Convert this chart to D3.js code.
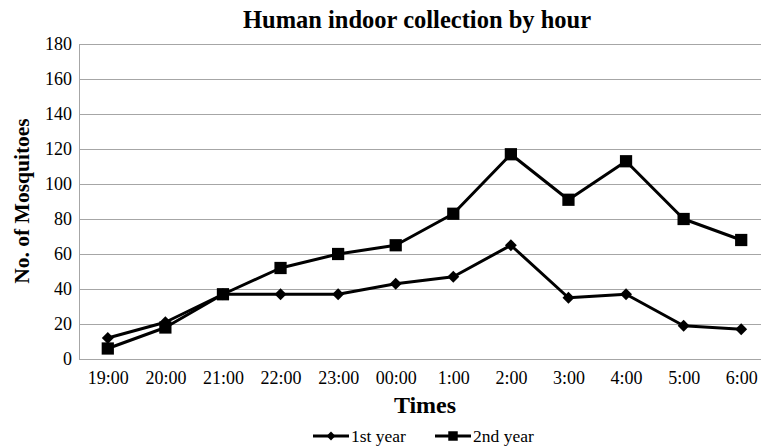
<!DOCTYPE html>
<html>
<head>
<meta charset="utf-8">
<script src="https://cdn.jsdelivr.net/npm/d3@7"></script>
<style>
  body { margin: 0; background: #fff; }
  text { font-family: "Liberation Serif", "Times New Roman", serif; fill: #000; }
</style>
</head>
<body>
<script>
// data
var times = ["19:00", "20:00", "21:00", "22:00", "23:00", "00:00", "1:00", "2:00", "3:00", "4:00", "5:00", "6:00"];
var firstYear = [12, 21, 37, 37, 37, 43, 47, 65, 35, 37, 19, 17];
var secondYear = [6, 18, 37, 52, 60, 65, 83, 117, 91, 113, 80, 68];
var yTicks = [0, 20, 40, 60, 80, 100, 120, 140, 160, 180];

// plot box (right edge runs past the window, like the original crop)
var margin = {top: 44, left: 79},
    plotRight = 770,
    plotBottom = 359;

var svg = d3.select("body")
  .append("svg")
    .attr("width", 761)
    .attr("height", 446);

var x = d3.scalePoint()
  .domain(times)
  .range([margin.left, plotRight])
  .padding(0.5);

var y = d3.scaleLinear()
  .domain([0, 180])
  .range([plotBottom, margin.top]);

// gridlines
svg.append("g")
  .selectAll("line")
  .data(yTicks)
  .enter().append("line")
    .attr("x1", margin.left)
    .attr("x2", plotRight)
    .attr("y1", function(d) { return y(d) + 0.5; })
    .attr("y2", function(d) { return y(d) + 0.5; })
    .attr("stroke", "#a6a6a6")
    .attr("stroke-width", 1);

// left axis line
svg.append("line")
  .attr("x1", margin.left + 0.5).attr("x2", margin.left + 0.5)
  .attr("y1", margin.top).attr("y2", plotBottom + 1)
  .attr("stroke", "#a6a6a6");

// y tick labels
svg.append("g")
  .attr("transform", "translate(" + (margin.left - 7) + ",0)")
  .call(d3.axisLeft(y).tickValues(yTicks).tickSize(0).tickPadding(0))
  .attr("font-family", "Liberation Serif")
  .attr("font-size", 18)
  .call(function(g) { g.select(".domain").remove(); });

// x tick labels
svg.append("g")
  .attr("transform", "translate(0," + (plotBottom + 12) + ")")
  .call(d3.axisBottom(x).tickSize(0).tickPadding(0))
  .attr("font-family", "Liberation Serif")
  .attr("font-size", 18)
  .call(function(g) { g.select(".domain").remove(); });

// lines
var line = d3.line()
  .x(function(d, i) { return x(times[i]); })
  .y(function(d) { return y(d); });

[firstYear, secondYear].forEach(function(series) {
  svg.append("path")
    .datum(series)
    .attr("fill", "none")
    .attr("stroke", "#000")
    .attr("stroke-width", 3)
    .attr("stroke-linejoin", "round")
    .attr("d", line);
});

var diamond = d3.symbol().type(d3.symbolDiamond2).size(90);
var square = d3.symbol().type(d3.symbolSquare).size(150);

svg.append("g")
  .selectAll("path")
  .data(firstYear)
  .enter().append("path")
    .attr("d", diamond)
    .attr("transform", function(d, i) { return "translate(" + x(times[i]) + "," + y(d) + ")"; })
    .attr("fill", "#000");

svg.append("g")
  .selectAll("path")
  .data(secondYear)
  .enter().append("path")
    .attr("d", square)
    .attr("transform", function(d, i) { return "translate(" + x(times[i]) + "," + y(d) + ")"; })
    .attr("fill", "#000");

// title and axis titles
svg.append("text")
  .attr("x", 417)
  .attr("y", 28)
  .attr("text-anchor", "middle")
  .style("font-size", "24.5px")
  .style("font-weight", "bold")
  .text("Human indoor collection by hour");

svg.append("text")
  .attr("transform", "translate(29,201) rotate(-90)")
  .attr("text-anchor", "middle")
  .style("font-size", "21.5px")
  .style("font-weight", "bold")
  .text("No. of Mosquitoes");

svg.append("text")
  .attr("x", 425)
  .attr("y", 413)
  .attr("text-anchor", "middle")
  .style("font-size", "24px")
  .style("font-weight", "bold")
  .text("Times");

// legend
var legend = [
  {name: "1st year", sym: d3.symbol().type(d3.symbolDiamond2).size(50), x: 313},
  {name: "2nd year", sym: d3.symbol().type(d3.symbolSquare).size(90), x: 435}
];
var ly = 436;
legend.forEach(function(l) {
  svg.append("line")
    .attr("x1", l.x).attr("x2", l.x + 36)
    .attr("y1", ly).attr("y2", ly)
    .attr("stroke", "#000").attr("stroke-width", 3);
  svg.append("path")
    .attr("d", l.sym)
    .attr("transform", "translate(" + (l.x + 18) + "," + ly + ")")
    .attr("fill", "#000");
  svg.append("text")
    .attr("x", l.x + 38)
    .attr("y", ly + 6)
    .style("font-size", "17.5px")
    .text(l.name);
});
</script>
</body>
</html>
